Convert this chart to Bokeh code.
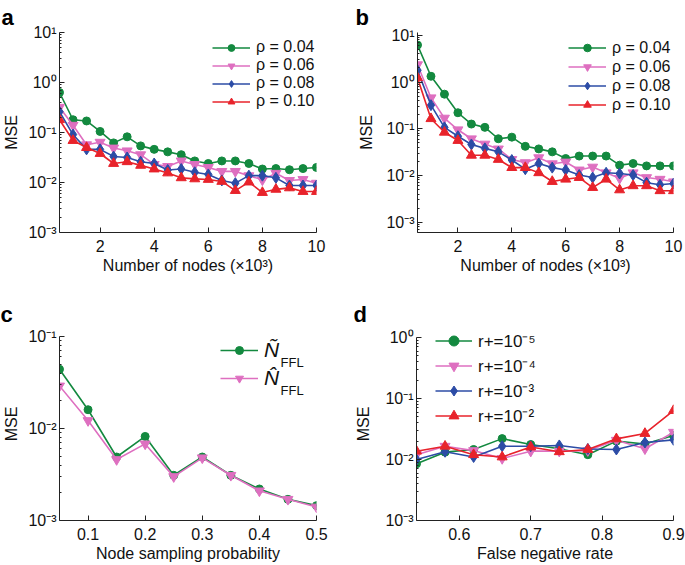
from bokeh.plotting import figure
from bokeh.models import FixedTicker, Legend, LegendItem, Label, Range1d
from bokeh.layouts import column, row
from bokeh.embed import file_html
from bokeh.resources import INLINE

FONT = "Liberation Sans"
GREEN = "#13893f"
PINK = "#de6fc0"
BLUE = "#2c4ca6"
RED = "#e8232b"

# ---------------- data ----------------
nodes_x = [0.5, 1.0, 1.5, 2.0, 2.5, 3.0, 3.5, 4.0, 4.5, 5.0,
           5.5, 6.0, 6.5, 7.0, 7.5, 8.0, 8.5, 9.0, 9.5, 10.0]

a_rho004 = [0.63, 0.18, 0.17, 0.105, 0.062, 0.082, 0.054, 0.046, 0.041, 0.036,
            0.027, 0.024, 0.027, 0.027, 0.024, 0.0186, 0.019, 0.018, 0.019, 0.020]
a_rho006 = [0.32, 0.14, 0.057, 0.064, 0.049, 0.043, 0.036, 0.023, 0.021, 0.027,
            0.023, 0.020, 0.0167, 0.0167, 0.0137, 0.0113, 0.0153, 0.011, 0.0115, 0.0097]
a_rho008 = [0.26, 0.091, 0.046, 0.046, 0.033, 0.0316, 0.026, 0.024, 0.0178, 0.0186,
            0.016, 0.0145, 0.011, 0.0097, 0.0137, 0.0137, 0.0124, 0.0087, 0.0087, 0.0087]
a_rho010 = [0.18, 0.069, 0.050, 0.038, 0.024, 0.026, 0.022, 0.0186, 0.0155, 0.0124,
            0.0118, 0.0115, 0.0105, 0.0069, 0.0102, 0.0063, 0.0073, 0.0078, 0.0066, 0.0066]

b_rho004 = [6.2, 1.33, 0.55, 0.22, 0.126, 0.107, 0.061, 0.066, 0.042, 0.037,
            0.032, 0.023, 0.026, 0.026, 0.026, 0.0166, 0.018, 0.016, 0.016, 0.016]
b_rho006 = [2.35, 0.46, 0.169, 0.095, 0.061, 0.047, 0.037, 0.022, 0.0188, 0.024,
            0.0178, 0.0194, 0.0131, 0.0151, 0.0114, 0.0087, 0.0114, 0.009, 0.0083, 0.0073]
b_rho008 = [1.79, 0.32, 0.107, 0.069, 0.046, 0.038, 0.032, 0.0214, 0.0136, 0.018,
            0.0147, 0.0131, 0.0102, 0.009, 0.0114, 0.011, 0.0102, 0.007, 0.0063, 0.0067]
b_rho010 = [1.23, 0.164, 0.084, 0.056, 0.027, 0.027, 0.022, 0.0147, 0.0147, 0.0114,
            0.0074, 0.0083, 0.009, 0.0055, 0.0083, 0.0049, 0.006, 0.006, 0.0047, 0.0047]

sampling_x = [0.05, 0.10, 0.15, 0.20, 0.25, 0.30, 0.35, 0.40, 0.45, 0.50]
c_tilde = [0.044, 0.016, 0.0049, 0.0082, 0.0031, 0.0049, 0.0031, 0.0022, 0.0017, 0.00145]
c_hat = [0.029, 0.0122, 0.0046, 0.0068, 0.0030, 0.0048, 0.0031, 0.0021, 0.0017, 0.0014]

fnr_x = [0.54, 0.58, 0.62, 0.66, 0.70, 0.74, 0.78, 0.82, 0.86, 0.90]
d_r5 = [0.0085, 0.0132, 0.0146, 0.022, 0.0176, 0.015, 0.012, 0.020, 0.018, 0.0247]
d_r4 = [0.012, 0.0165, 0.014, 0.0104, 0.0137, 0.0137, 0.014, 0.0207, 0.015, 0.028]
d_r3 = [0.010, 0.0134, 0.011, 0.0165, 0.0165, 0.017, 0.0149, 0.0146, 0.019, 0.021]
d_r2 = [0.0137, 0.0165, 0.012, 0.011, 0.016, 0.0134, 0.0146, 0.0218, 0.0267, 0.0635]

rho_labels = ["ρ = 0.04", "ρ = 0.06", "ρ = 0.08", "ρ = 0.10"]
c_labels = ["Ñ", "N̂"]
d_labels = ["r+=10⁻⁵", "r+=10⁻⁴", "r+=10⁻³", "r+=10⁻²"]

ytick_vals = [10, 1, 0.1, 0.01, 0.001]
ytick_labels = ["10¹", "10⁰", "10⁻¹", "10⁻²", "10⁻³"]
nodes_ticks = [2, 4, 6, 8, 10]
sampling_ticks = [0.1, 0.2, 0.3, 0.4, 0.5]
fnr_ticks = [0.6, 0.7, 0.8, 0.9]

COLORS = [GREEN, PINK, BLUE, RED]
MARKERS = ["circle", "inverted_triangle", "diamond", "triangle"]
SIZES = [8, 10, 11, 10]

MINOR = [m * 10.0 ** e for e in range(-4, 2) for m in range(2, 10)]


def make_fig(w, h, bl, br, bt, bb, xr, yr, letter, offset, standoff):
    p = figure(width=w, height=h, x_axis_type="linear", y_axis_type="log",
               x_range=Range1d(*xr), y_range=Range1d(*yr),
               output_backend="svg", toolbar_location=None,
               min_border_left=bl, min_border_right=br,
               min_border_top=bt, min_border_bottom=bb)
    p.outline_line_color = None
    p.xgrid.grid_line_color = None
    p.ygrid.grid_line_color = None
    p.background_fill_color = "white"
    p.border_fill_color = "white"
    p.title.text = letter
    p.title.align = "left"
    p.title.offset = offset
    p.title.standoff = standoff
    p.title.text_font = FONT
    p.title.text_font_size = "22px"
    p.title.text_font_style = "bold"
    p.title.text_color = "black"
    return p


def style_axes(p, xticks, xlabel, ylabel_standoff):
    p.yaxis.ticker = FixedTicker(ticks=ytick_vals, minor_ticks=MINOR)
    p.yaxis.major_label_overrides = dict(zip(ytick_vals, ytick_labels))
    p.xaxis.ticker = FixedTicker(ticks=xticks, minor_ticks=[])
    p.xaxis.axis_label = xlabel
    p.yaxis.axis_label = "MSE"
    for ax in (p.xaxis[0], p.yaxis[0]):
        ax.major_tick_in = 5
        ax.major_tick_out = 0
        ax.minor_tick_in = 2
        ax.minor_tick_out = 0
        ax.axis_line_color = "#222222"
        ax.major_tick_line_color = "#222222"
        ax.minor_tick_line_color = "#222222"
        ax.major_label_text_font = FONT
        ax.major_label_text_font_size = "16px"
        ax.major_label_text_color = "#111111"
        ax.axis_label_text_font = FONT
        ax.axis_label_text_font_size = "16px"
        ax.axis_label_text_font_style = "normal"
        ax.axis_label_text_color = "#111111"
    p.yaxis.major_label_standoff = 3
    p.xaxis.major_label_standoff = 7
    p.xaxis.axis_label_standoff = 2
    p.yaxis.axis_label_standoff = ylabel_standoff


def add_series(p, x, ys, labels, loc, gw, gh, fs, italic=False):
    items = []
    for y, lab, c, m, s in zip(ys, labels, COLORS, MARKERS, SIZES):
        l = p.line(x, y, line_color=c, line_width=1.6)
        sc = p.scatter(x, y, marker=m, size=s, fill_color=c, line_color=c)
        items.append(LegendItem(label=lab, renderers=[l, sc]))
    leg = Legend(items=items, location=loc, border_line_color=None,
                 background_fill_alpha=0, padding=0, margin=0, spacing=0,
                 glyph_width=gw, glyph_height=gh, label_height=gh,
                 label_standoff=6, label_text_font=FONT,
                 label_text_font_size=fs, label_text_color="#111111",
                 label_text_font_style="italic" if italic else "normal")
    p.add_layout(leg)


# ---- panel a ----
pa = make_fig(342, 298, 58, 26, 30, 66, (0.5, 10), (1e-3, 10), "a", -58, 5)
style_axes(pa, nodes_ticks, "Number of nodes (×10³)", 5)
add_series(pa, nodes_x, [a_rho004, a_rho006, a_rho008, a_rho010], rho_labels,
           (153, 122), 38, 17, "16px")

# ---- panel b ----
pb = make_fig(343, 298, 75, 12, 30, 66, (0.5, 10), (6e-4, 11.5), "b", -62, 5)
style_axes(pb, nodes_ticks, "Number of nodes (×10³)", 8)
add_series(pb, nodes_x, [b_rho004, b_rho006, b_rho008, b_rho010], rho_labels,
           (151, 118), 38, 19, "16px")

# ---- panel c ----  (frame extended slightly above 10^-1, axis line bounded)
pc = make_fig(342, 267, 59, 26, 29, 45, (0.05, 0.5), (1e-3, 0.1253), "c", -59, 2)
style_axes(pc, sampling_ticks, "Node sampling probability", 5)
pc.yaxis.bounds = (1e-3, 0.1)
items = []
for y, lab, c, m, s in zip([c_tilde, c_hat], c_labels, COLORS, MARKERS, SIZES):
    l = pc.line(sampling_x, y, line_color=c, line_width=1.6)
    sc = pc.scatter(sampling_x, y, marker=m, size=s, fill_color=c, line_color=c)
    items.append(LegendItem(label=lab, renderers=[l, sc]))
legc = Legend(items=items, location=(161, 130), border_line_color=None,
              background_fill_alpha=0, padding=0, margin=0, spacing=4,
              glyph_width=38, glyph_height=20, label_height=20,
              label_standoff=6, label_text_font=FONT,
              label_text_font_size="21px", label_text_color="#111111",
              label_text_font_style="italic")
pc.add_layout(legc)
for yy in (158, 130):
    pc.add_layout(Label(text="FFL", x=221, y=yy, x_units="screen", y_units="screen",
                        text_font=FONT, text_font_size="13px",
                        text_color="#111111", text_baseline="alphabetic"))

# ---- panel d ----  (frame extended slightly above 10^0, axis line bounded)
pd_ = make_fig(343, 267, 74, 12, 29, 45, (0.54, 0.9), (1e-3, 1.46), "d", -63, 2)
style_axes(pd_, fnr_ticks, "False negative rate", 10)
pd_.yaxis.ticker = FixedTicker(ticks=ytick_vals[1:], minor_ticks=MINOR)
pd_.yaxis.bounds = (1e-3, 1)
add_series(pd_, fnr_x, [d_r5, d_r4, d_r3, d_r2], d_labels,
           (19, 92), 37, 25, "17px")

layout = column(row(pa, pb), row(pc, pd_))
open("out.html", "w").write(file_html(layout, INLINE))
